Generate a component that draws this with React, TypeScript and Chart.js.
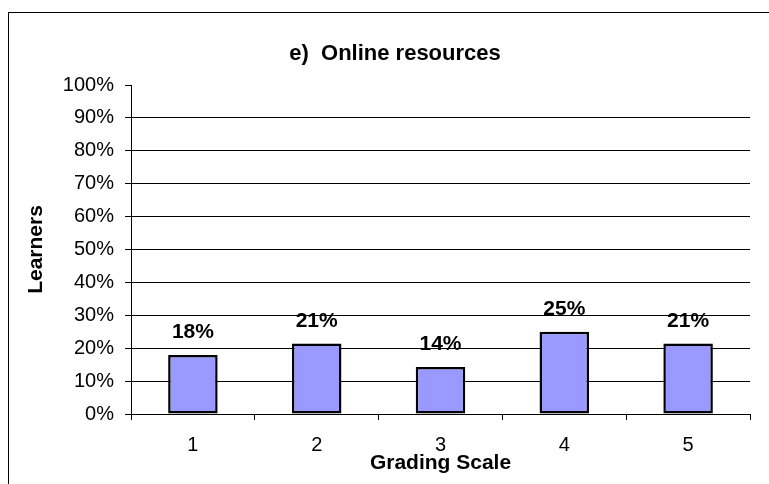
import React, { useEffect, useRef } from "react";
import { Chart, registerables } from "chart.js";

Chart.register(...registerables);

const titleText = "e)  Online resources";
const categories = ["1", "2", "3", "4", "5"];
const learnersPct = [17.9, 21.4, 14.3, 25.0, 21.4];
const yTicks = [0, 10, 20, 30, 40, 50, 60, 70, 80, 90, 100];
const xTitle = "Grading Scale";
const yTitle = "Learners";

const FONT = "'Liberation Sans', Arial, sans-serif";

const framePlugin = {
  id: "frameAndTitle",
  beforeDraw(chart: any) {
    const ctx = chart.ctx;
    ctx.save();
    ctx.fillStyle = "#ffffff";
    ctx.fillRect(0, 0, chart.width, chart.height);
    ctx.strokeStyle = "#000000";
    ctx.lineWidth = 1;
    ctx.strokeRect(8.5, 12.5, 774, 600);
    ctx.fillStyle = "#000000";
    ctx.font = `bold 22px ${FONT}`;
    ctx.textAlign = "center";
    ctx.textBaseline = "alphabetic";
    ctx.fillText(titleText, 395, 60);
    ctx.restore();
  },
};

const labelPlugin = {
  id: "barLabels",
  afterDatasetsDraw(chart: any) {
    const ctx = chart.ctx;
    const meta = chart.getDatasetMeta(0);
    ctx.save();
    ctx.fillStyle = "#000000";
    ctx.font = `bold 21px ${FONT}`;
    ctx.textAlign = "center";
    ctx.textBaseline = "alphabetic";
    meta.data.forEach((bar: any, i: number) => {
      const v = learnersPct[i];
      ctx.fillText(Math.round(v) + "%", bar.x, bar.y - 17);
    });
    ctx.restore();
  },
};

export default function App() {
  const ref = useRef<HTMLCanvasElement | null>(null);
  useEffect(() => {
    if (!ref.current) return;
    const chart = new Chart(ref.current, {
      type: "bar",
      data: {
        labels: categories,
        datasets: [
          {
            data: learnersPct,
            backgroundColor: "#9999FF",
            borderColor: "#000000",
            borderWidth: 2.5,
            borderSkipped: false,
            barPercentage: 0.4,
            categoryPercentage: 1.0,
          },
        ],
      },
      options: {
        animation: false,
        responsive: false,
        layout: { padding: { top: 85, right: 19, left: 0, bottom: 0 } },
        plugins: {
          legend: { display: false },
          tooltip: { enabled: false },
          title: { display: false },
        },
        scales: {
          x: {
            offset: true,
            grid: {
              offset: true,
              drawOnChartArea: false,
              drawTicks: true,
              tickLength: 6,
              color: "#000000",
              tickColor: "#000000",
            },
            border: { display: true, color: "#000000", width: 1 },
            ticks: {
              color: "#000000",
              font: { family: FONT, size: 20, lineHeight: 1.2 },
              padding: 13,
              maxRotation: 0,
            },
            title: {
              display: true,
              text: xTitle,
              color: "#000000",
              font: { family: FONT, size: 21, weight: "bold", lineHeight: 1.2 },
              padding: { top: 0, bottom: 8 },
            },
            afterFit: (scale: any) => {
              scale.height = 70;
            },
          },
          y: {
            min: 0,
            max: 100,
            afterBuildTicks: (scale: any) => {
              scale.ticks = yTicks.map((v) => ({ value: v }));
            },
            grid: {
              color: (c: any) =>
                c.tick && (c.tick.value === 100 || c.tick.value === 0)
                  ? "rgba(0,0,0,0)"
                  : "#000000",
              tickColor: "#000000",
              tickLength: 6,
              drawTicks: true,
            },
            border: { display: true, color: "#000000", width: 1 },
            ticks: {
              color: "#000000",
              font: { family: FONT, size: 20, lineHeight: 1.2 },
              padding: 11,
              callback: (v: any) => v + "%",
            },
            title: {
              display: true,
              text: yTitle,
              color: "#000000",
              font: { family: FONT, size: 21, weight: "bold", lineHeight: 1.2 },
              padding: { top: 24, bottom: 0 },
            },
            afterFit: (scale: any) => {
              scale.width = 131;
            },
          },
        },
      },
      plugins: [framePlugin, labelPlugin],
    });
    return () => chart.destroy();
  }, []);
  return (
    <canvas
      ref={ref}
      width={769}
      height={484}
      style={{ position: "absolute", left: 0, top: 0, display: "block" }}
    />
  );
}
